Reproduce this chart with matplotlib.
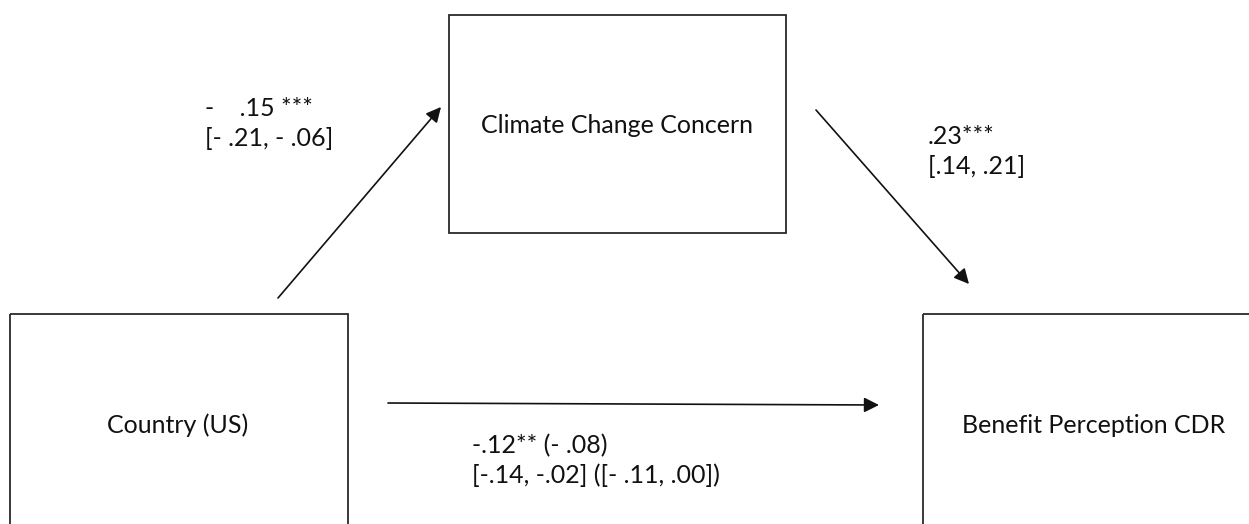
import matplotlib
matplotlib.use("Agg")
import matplotlib.pyplot as plt
from matplotlib.patches import Rectangle, FancyArrowPatch

# node labels
nodes = ["Country (US)", "Climate Change Concern", "Benefit Perception CDR"]

# path coefficients and confidence intervals
path_a = ["-    .15 ***", "[- .21, - .06]"]
path_b = [".23***", "[.14, .21]"]
path_c = ["-.12** (- .08)", "[-.14, -.02] ([- .11, .00])"]

W, H = 1249, 524
fig = plt.figure(figsize=(W / 100, H / 100), dpi=100)
ax = fig.add_axes([0, 0, 1, 1])
ax.set_xlim(0, W)
ax.set_ylim(H, 0)
ax.axis("off")

font = dict(family=["Lato", "DejaVu Sans"], fontsize=18, color="#111111")

# boxes: (x, y, w, h) in pixel coords, y from the top
boxes = [(10, 314, 338, 260), (449, 15, 337, 218), (923, 314, 360, 260)]
label_pos = [(178, 433), (617, 133), (1094, 433)]
for (x, y, w, h), name, (tx, ty) in zip(boxes, nodes, label_pos):
    ax.add_patch(Rectangle((x, y), w, h, fill=False, ec="#2a2a2a", lw=1.3))
    ax.text(tx, ty, name, ha="center", va="baseline", **font)

# arrows
arrows = [((278, 298), (441, 107)), ((816, 110), (969, 284)), ((388, 403), (879, 405))]
for start, end in arrows:
    ax.add_patch(FancyArrowPatch(start, end, arrowstyle="-|>,head_length=9,head_width=4.5",
                                 lw=1.2, color="#111111", shrinkA=0, shrinkB=0))

# coefficient labels (baseline of first line)
for lines, (x, y) in zip([path_a, path_b, path_c], [(205, 116), (928, 144), (472, 453)]):
    for i, line in enumerate(lines):
        ax.text(x, y + i * 30, line, ha="left", va="baseline", **font)

fig.savefig("out.png", dpi=100)
